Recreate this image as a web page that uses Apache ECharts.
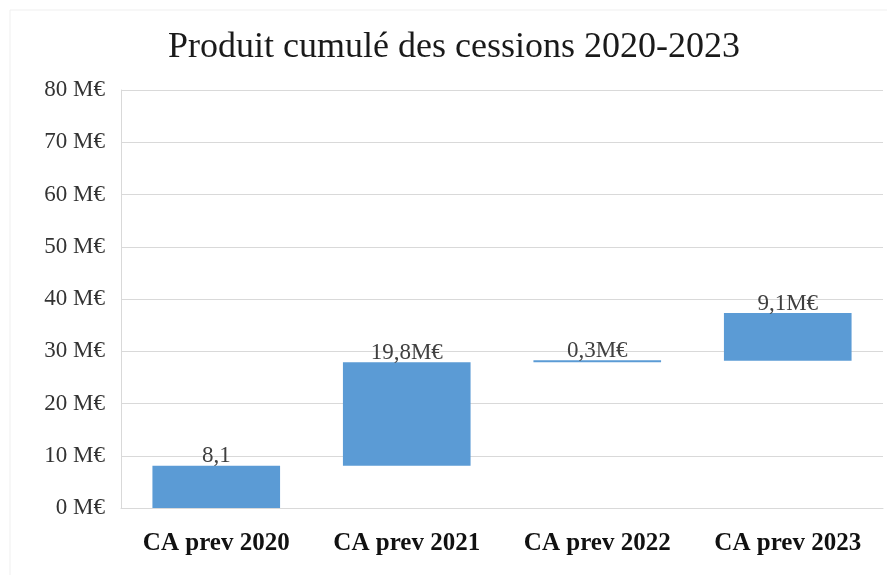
<!DOCTYPE html>
<html lang="fr">
<head>
    <meta charset="UTF-8">
    <title>Produit cumulé des cessions</title>
    <style>
        *{
            margin: 0;
            padding: 0;
        }
        .main{
            width: 887px;
            height: 575px;
            background: #ffffff;
        }
    </style>
    <script src="https://cdn.jsdelivr.net/npm/echarts@6/dist/echarts.min.js"></script>
</head>
<body>
<div class="main"></div>
<script>
    // données
    let categories = ['CA prev 2020', 'CA prev 2021', 'CA prev 2022', 'CA prev 2023'];
    let increments = [8.1, 19.8, 0.3, 9.1];
    let labels = ['8,1', '19,8M€', '0,3M€', '9,1M€'];
    let yTicks = [0, 10, 20, 30, 40, 50, 60, 70, 80];

    // base invisible de la cascade
    let bases = [];
    let total = 0;
    increments.forEach(v => {
        bases.push(total);
        total += v;
    });

    let serif = '"Liberation Serif", "DejaVu Serif", serif';
    let main = document.querySelector('.main');
    let chart = echarts.init(main);

    let option = {
        animation: false,
        title: {
            text: 'Produit cumulé des cessions 2020-2023',
            left: 163,
            top: 25,
            textStyle: {
                fontFamily: serif,
                fontSize: 36,
                fontWeight: 'normal',
                color: '#1a1a1a'
            }
        },
        graphic: [{
            type: 'rect',
            shape: { x: 10, y: 10, width: 880, height: 570 },
            style: { fill: 'none', stroke: '#efefef', lineWidth: 1 }
        }],
        grid: {
            left: 121,
            right: 4,
            top: 90,
            bottom: 67
        },
        xAxis: {
            type: 'category',
            data: categories,
            axisTick: { show: false },
            axisLine: { lineStyle: { color: '#d9d9d9' } },
            axisLabel: {
                interval: 0,
                hideOverlap: false,
                margin: 23,
                fontFamily: serif,
                fontSize: 25,
                fontWeight: 'bold',
                color: '#111111'
            }
        },
        yAxis: {
            type: 'value',
            min: yTicks[0],
            max: yTicks[yTicks.length - 1],
            interval: 10,
            axisLine: { show: true, lineStyle: { color: '#d9d9d9' } },
            axisTick: { show: false },
            splitLine: { lineStyle: { color: '#d9d9d9' } },
            axisLabel: {
                margin: 16,
                fontFamily: serif,
                fontSize: 23,
                color: '#333333',
                formatter: v => v + ' M€'
            }
        },
        series: [{
            type: 'bar',
            stack: 'cascade',
            data: bases,
            barWidth: '67%',
            itemStyle: { color: 'transparent' },
            silent: true
        }, {
            type: 'bar',
            stack: 'cascade',
            data: increments,
            barWidth: '67%',
            barMinHeight: 2,
            itemStyle: { color: '#5b9bd5' },
            label: {
                show: true,
                position: 'top',
                distance: -2,
                fontFamily: serif,
                fontSize: 23,
                color: '#404040',
                formatter: p => labels[p.dataIndex]
            }
        }]
    };
    chart.setOption(option);
</script>
</body>
</html>
